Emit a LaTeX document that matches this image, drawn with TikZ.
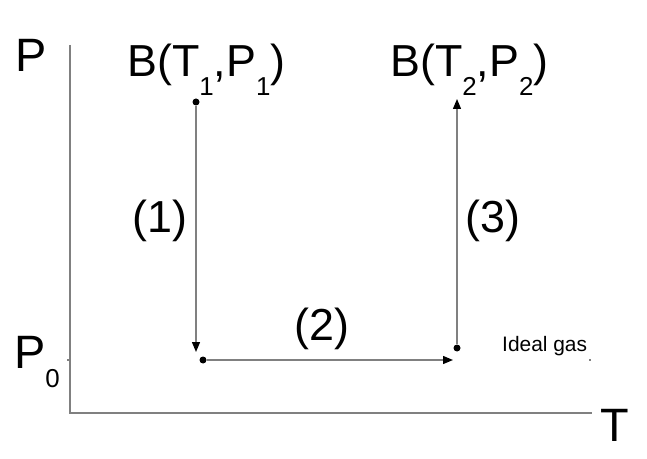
\documentclass[tikz,border=0pt]{standalone}
\usepackage{fontspec}
\setmainfont{Liberation Sans}
\usetikzlibrary{arrows.meta}
\newcommand{\dn}[1]{\raisebox{-19bp}{\fontsize{26}{26}\selectfont #1}}
\tikzset{
  axis/.style={draw=gray,line width=1.3bp},
  flow/.style={draw=gray,line width=1.3bp,-{Triangle[color=black,length=10bp,width=8bp]}},
  dot/.style={circle,fill=black,inner sep=0pt,minimum size=7bp},
  big/.style={font=\fontsize{47}{47}\selectfont,inner sep=0pt},
  mid/.style={font=\fontsize{45}{45}\selectfont,inner sep=0pt},
  small/.style={font=\fontsize{21}{21}\selectfont,inner sep=0pt},
}
\begin{document}
\begin{tikzpicture}[x=1bp,y=-1bp]
  \useasboundingbox (0,0) rectangle (647,459);
%%
  % Axes
  \coordinate (ytop) at (70,45);
  \coordinate (origin) at (70,413);
  \coordinate (xend) at (592,413);
  \draw [axis] (ytop) -- (origin) -- (xend);
  \draw [axis] (67,360) -- (70,360);
  \draw [draw=gray,line width=1.3bp] (589,360) -- (591,360);
  \node [big,anchor=base west] (plab) at (15,72) {P};
  \node [big,anchor=base west] (tlab) at (600,441) {T};
  \node [big,anchor=base west] (p0lab) at (14,368) {P\dn{0}};
  % Node: b1
  \node [dot] (b1) at (196,102) {};
  \node [mid,anchor=base west] (b1lab) at (127,77) {B(T\dn{1},P\dn{1})};
  % Node: c1
  \node [dot] (c1) at (203,360) {};
  % Node: c2
  \node [dot] (c2) at (457,348) {};
  \node [small,anchor=base west] (gaslab) at (502,351) {Ideal gas};
  % Node: b2
  \coordinate (b2) at (457,99);
  \node [mid,anchor=base west] (b2lab) at (390,77) {B(T\dn{2},P\dn{2})};
  % Edge: b1 -> c1
  \coordinate (t1) at (196,352);
  \draw [flow] (b1) -- (t1);
  % Edge: c1 -> c2
  \coordinate (t2) at (453,360);
  \draw [flow] (c1) -- (t2);
  % Edge: c2 -> b2
  \draw [flow] (c2) -- (b2);
  % Step labels
  \node [mid] (s1) at (160,221) {(1)};
  \node [mid] (s2) at (322,329) {(2)};
  \node [mid] (s3) at (493,221) {(3)};
%
\end{tikzpicture}
\end{document}
